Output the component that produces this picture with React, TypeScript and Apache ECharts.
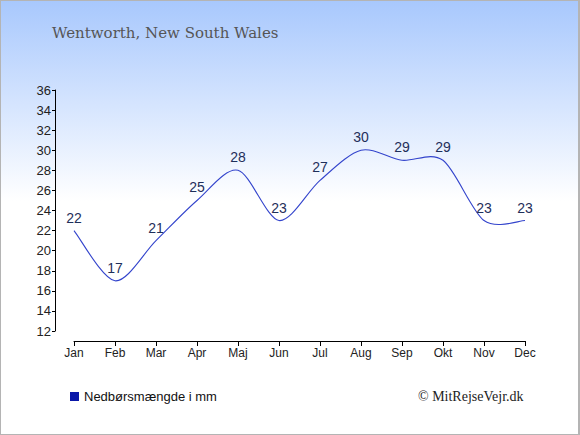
import React, { useEffect, useRef } from "react";
import * as echarts from "echarts";

const months = ["Jan", "Feb", "Mar", "Apr", "Maj", "Jun", "Jul", "Aug", "Sep", "Okt", "Nov", "Dec"];
const rainfall = [22, 17, 21, 25, 28, 23, 27, 30, 29, 29, 23, 23];
const yMin = 12;
const yMax = 36;
const yStep = 2;
const titleText = "Wentworth, New South Wales";
const legendText = "Nedbørsmængde i mm";
const copyrightText = "© MitRejseVejr.dk";

function splinePath(pts: number[][]): string {
  if (!pts.length) return "";
  let d = `M${pts[0][0]},${pts[0][1]}`;
  const k = 0.15;
  for (let i = 0; i < pts.length - 1; i++) {
    const p0 = pts[i - 1] || pts[i];
    const p1 = pts[i];
    const p2 = pts[i + 1];
    const p3 = pts[i + 2] || pts[i + 1];
    const c1x = p1[0] + (p2[0] - p0[0]) * k;
    const c1y = p1[1] + (p2[1] - p0[1]) * k;
    const c2x = p2[0] - (p3[0] - p1[0]) * k;
    const c2y = p2[1] - (p3[1] - p1[1]) * k;
    d += ` C${c1x},${c1y} ${c2x},${c2y} ${p2[0]},${p2[1]}`;
  }
  return d;
}

export default function App() {
  const ref = useRef<HTMLDivElement>(null);
  useEffect(() => {
    document.body.style.margin = "0";
    if (!ref.current) return;
    const chart = echarts.init(ref.current, null, { renderer: "svg" });
    chart.setOption({
      animation: false,
      backgroundColor: "transparent",
      title: {
        text: titleText,
        left: 47,
        top: 20,
        textStyle: { fontFamily: "DejaVu Serif", fontSize: 15, fontWeight: "normal", color: "#555555" },
      },
      grid: { left: 74, right: 55, top: 90, bottom: 104 },
      xAxis: {
        type: "category",
        data: months,
        boundaryGap: false,
        offset: 10,
        axisLine: { lineStyle: { color: "#000", width: 1 } },
        axisTick: { alignWithLabel: true, length: 5, lineStyle: { color: "#000" } },
        axisLabel: { color: "#222", fontFamily: "Liberation Sans", fontSize: 12, margin: 6 },
        splitLine: { show: false },
      },
      yAxis: {
        type: "value",
        min: yMin,
        max: yMax,
        interval: yStep,
        offset: 19,
        axisLine: { show: true, lineStyle: { color: "#000", width: 1 } },
        axisTick: { show: true, length: 3, lineStyle: { color: "#000" } },
        axisLabel: { color: "#222", fontFamily: "Liberation Sans", fontSize: 13, margin: 4 },
        splitLine: { show: false },
      },
      series: [
        {
          type: "custom",
          data: rainfall.map((v, i) => [i, v]),
          renderItem: (params: any, api: any) => {
            if (params.dataIndex !== 0) return null;
            const pts = rainfall.map((v, i) => api.coord([i, v]));
            return {
              type: "path",
              shape: { pathData: splinePath(pts) },
              style: { stroke: "#3344cc", fill: "none", lineWidth: 1.1 },
              silent: true,
            };
          },
          z: 2,
        },
        {
          type: "scatter",
          data: rainfall.map((v, i) => [i, v]),
          symbolSize: 0,
          itemStyle: { color: "#1f2f5a", opacity: 1 },
          label: {
            show: true,
            position: "top",
            distance: 6,
            formatter: (p: any) => String(p.value[1]),
            color: "#1f2f5a",
            opacity: 1,
            fontFamily: "Liberation Sans",
            fontSize: 14,
          },
          z: 3,
        },
      ],
      graphic: [
        { type: "rect", left: 70, top: 392, shape: { width: 9, height: 9 }, style: { fill: "#0a17a8" } },
        {
          type: "text",
          left: 84,
          top: 390,
          style: { text: legendText, fontFamily: "Liberation Sans", fontSize: 13, fill: "#111" },
        },
        {
          type: "text",
          left: 418,
          top: 389,
          style: { text: copyrightText, fontFamily: "Liberation Serif", fontSize: 14, fill: "#222" },
        },
      ],
    });
    return () => chart.dispose();
  }, []);
  return (
    <div
      style={{
        position: "relative",
        width: 580,
        height: 435,
        boxSizing: "border-box",
        border: "1px solid #b4b4b4",
        borderRightWidth: 2,
        background: "linear-gradient(to bottom, #a8c8fd 0px, #ffffff 200px, #ffffff 435px)",
        overflow: "hidden",
      }}
    >
      <div ref={ref} style={{ position: "absolute", left: -1, top: -1, width: 580, height: 435 }} />
    </div>
  );
}
